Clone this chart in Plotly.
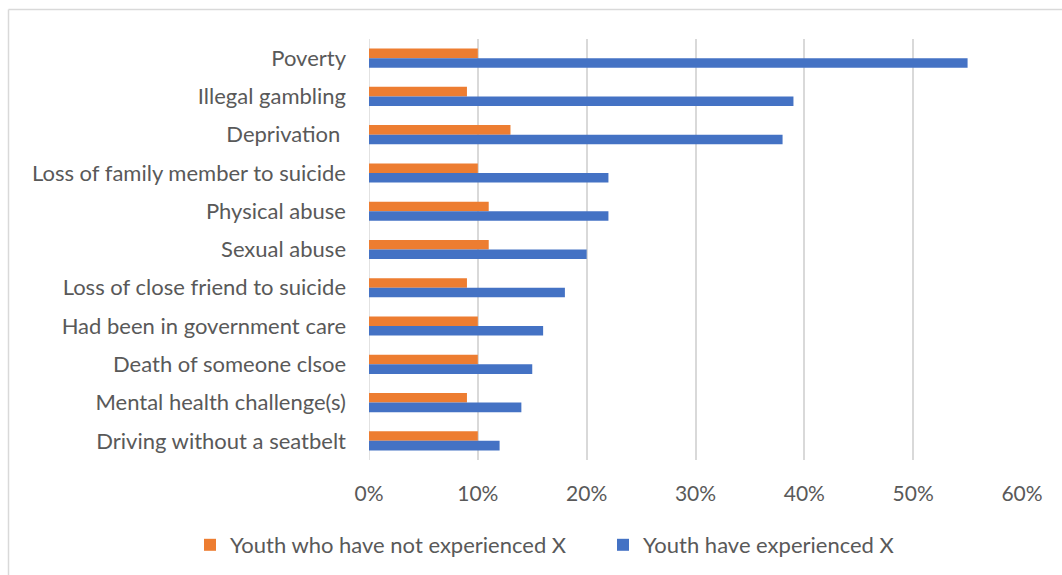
import plotly.graph_objects as go

# Risk factors, listed top to bottom
categories = [
    "Poverty",
    "Illegal gambling",
    "Deprivation\u00a0",
    "Loss of family member to suicide",
    "Physical abuse",
    "Sexual abuse",
    "Loss of close friend to suicide",
    "Had been in government care",
    "Death of someone clsoe",
    "Mental health challenge(s)",
    "Driving without a seatbelt",
]

not_experienced = [0.10, 0.09, 0.13, 0.10, 0.11, 0.11, 0.09, 0.10, 0.10, 0.09, 0.10]
experienced = [0.55, 0.39, 0.38, 0.22, 0.22, 0.20, 0.18, 0.16, 0.15, 0.14, 0.12]

tick_vals = [0, 0.1, 0.2, 0.3, 0.4, 0.5, 0.6]
tick_text = ["0%", "10%", "20%", "30%", "40%", "50%", "60%"]

ORANGE = "#ED7D31"
BLUE = "#4472C4"
TEXT = "#595959"
GRID = "#D9D9D9"
FONT = "Lato, 'Open Sans', sans-serif"

fig = go.Figure()
fig.add_trace(go.Bar(
    y=categories, x=not_experienced, orientation="h",
    name="Youth who have not experienced X",
    marker=dict(color=ORANGE, line=dict(width=0)),
))
fig.add_trace(go.Bar(
    y=categories, x=experienced, orientation="h",
    name="Youth have experienced X",
    marker=dict(color=BLUE, line=dict(width=0)),
))

W, H = 1062, 575
L, R, T, B = 369, 40, 39, 115
pw, ph = W - L - R, H - T - B

fig.update_layout(
    width=W, height=H,
    margin=dict(l=L, r=R, t=T, b=B, autoexpand=False),
    paper_bgcolor="white", plot_bgcolor="white",
    barmode="group", bargap=0.5, bargroupgap=0,
    font=dict(family=FONT, color=TEXT, size=22),
    showlegend=True,
    legend=dict(
        orientation="h", x=(190 - L) / pw, xanchor="left",
        y=-(524 - (T + ph)) / ph, yanchor="top",
        font=dict(size=22, color=TEXT),
        itemwidth=30,
        traceorder="normal",
        entrywidth=368, tracegroupgap=0,
        bgcolor="rgba(0,0,0,0)",
    ),
    xaxis=dict(
        range=[0, 0.6], tickvals=tick_vals, ticktext=tick_text,
        showgrid=True, gridcolor=GRID, gridwidth=1.5,
        zeroline=False, showline=False, ticks="",
        ticklabelstandoff=19,
        tickfont=dict(size=21, color=TEXT),
        fixedrange=True,
    ),
    yaxis=dict(
        type="category", autorange="reversed",
        showgrid=False, zeroline=False, showline=False, ticks="",
        ticklabelstandoff=22,
        tickfont=dict(size=22, color=TEXT),
        fixedrange=True,
    ),
    shapes=[
        # outer chart frame (top and left edges)
        dict(type="line", xref="paper", yref="paper",
             x0=(8.5 - L) / pw, x1=(W + 5 - L) / pw,
             y0=(T + ph - 9.5) / ph, y1=(T + ph - 9.5) / ph,
             line=dict(color=GRID, width=1.5)),
        dict(type="line", xref="paper", yref="paper",
             x0=(8.5 - L) / pw, x1=(8.5 - L) / pw,
             y0=(T + ph - 9.5) / ph, y1=(T + ph - H - 5) / ph,
             line=dict(color=GRID, width=1.5)),
        # left gridline at 0%
        dict(type="line", xref="x", yref="paper",
             x0=0, x1=0, y0=0, y1=1, layer="below",
             line=dict(color=GRID, width=1.5)),
    ],
)

fig.write_html("out.html")
